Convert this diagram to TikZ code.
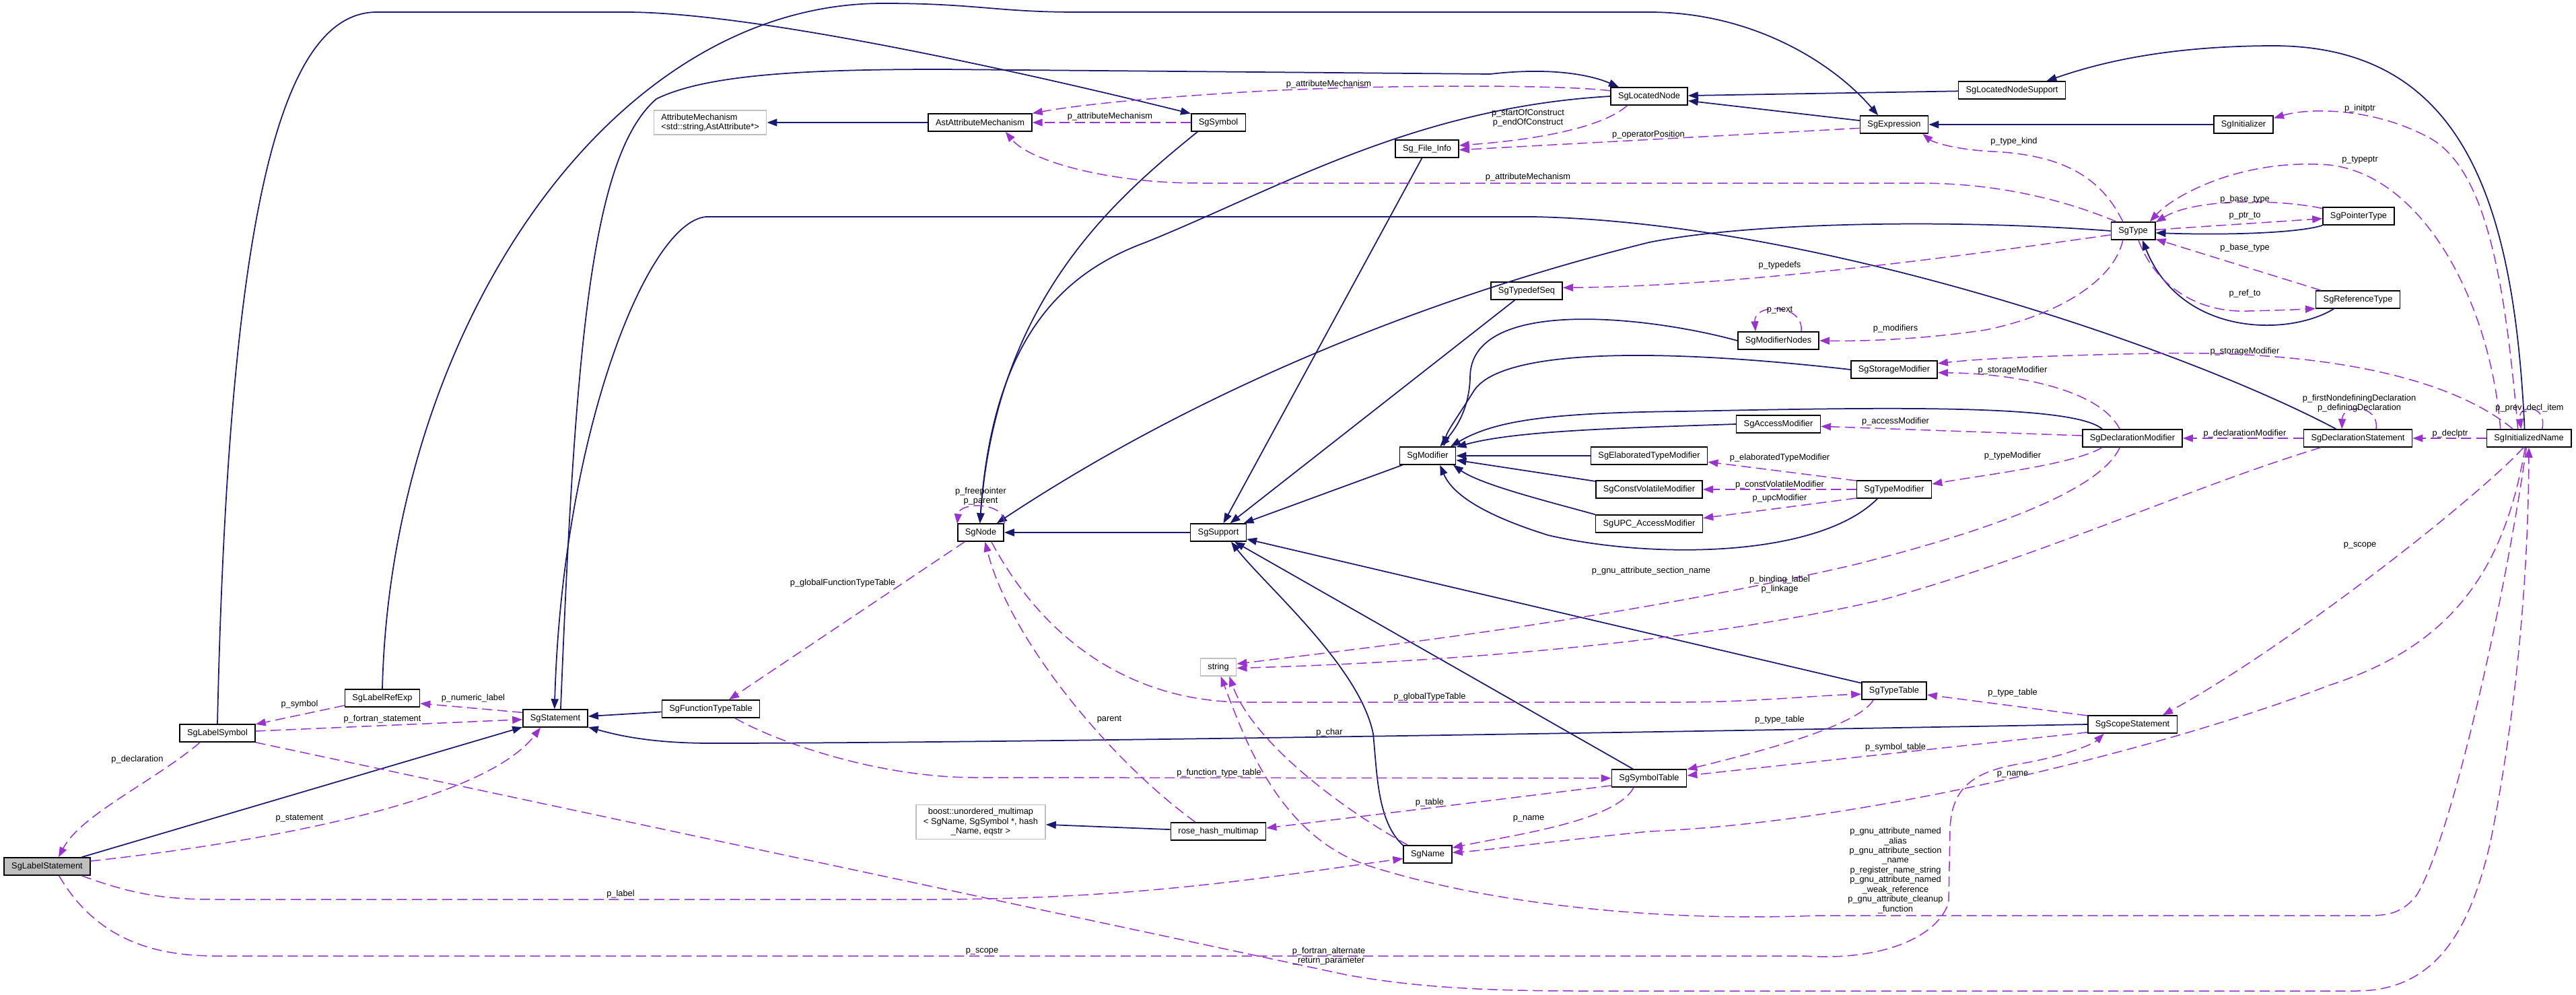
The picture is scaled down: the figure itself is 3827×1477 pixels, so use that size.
\documentclass[tikz,border=0pt]{standalone}
\usepackage{fontspec}
\setmainfont{Liberation Sans}
\usetikzlibrary{arrows.meta}
\definecolor{edgeblue}{HTML}{191970}
\definecolor{edgepurple}{HTML}{9A32CD}

\begin{document}
\begin{tikzpicture}[x=0.2mm, y=-0.2mm,
    font=\fontsize{7.3}{8.2}\selectfont,
    cls/.style={rectangle, draw=black, line width=0.3mm, fill=white,
        minimum height=5.2mm, inner xsep=2.2mm, inner ysep=1mm, align=center},
    extcls/.style={cls, draw=black!25},
    inh/.style={draw=edgeblue, line width=0.35mm, -{Triangle[length=3mm, width=2.2mm]}},
    mem/.style={draw=edgepurple, line width=0.3mm, dash pattern=on 3mm off 1.5mm,
        -{Triangle[length=3mm, width=2.2mm]}},
    lbl/.style={inner sep=0pt, align=center}]

    \useasboundingbox (0,0) rectangle (3827,1477);

    \node[cls, fill=black!25] (lstmt) at (70,1287) {SgLabelStatement};
    \node[cls] (lsym) at (323,1089) {SgLabelSymbol};
    \node[cls] (lref) at (568,1037) {SgLabelRefExp};
    \node[cls] (stmt) at (825,1067) {SgStatement};
    \node[cls] (ftt) at (1056,1053) {SgFunctionTypeTable};
    \node[extcls, align=left] (attrmech) at (1055,182) {AttributeMechanism\\<std::string,AstAttribute*>};
    \node[cls] (astattr) at (1456,182) {AstAttributeMechanism};
    \node[cls] (symbol) at (1810,182) {SgSymbol};
    \node[cls] (locnode) at (2450,143) {SgLocatedNode};
    \node[cls] (fileinfo) at (2120,221) {Sg\_File\_Info};
    \node[cls] (locsupport) at (2989,134) {SgLocatedNodeSupport};
    \node[cls] (expr) at (2814,185) {SgExpression};
    \node[cls] (initer) at (3333,185) {SgInitializer};
    \node[cls] (sgtype) at (3169,343) {SgType};
    \node[cls] (ptrtype) at (3504,321) {SgPointerType};
    \node[cls] (reftype) at (3503,445) {SgReferenceType};
    \node[cls] (typedefseq) at (2268,432) {SgTypedefSeq};
    \node[cls] (modnodes) at (2642,506) {SgModifierNodes};
    \node[cls] (storage) at (2814,549) {SgStorageModifier};
    \node[cls] (access) at (2642,630) {SgAccessModifier};
    \node[cls] (modifier) at (2121,677) {SgModifier};
    \node[cls] (elab) at (2450,677) {SgElaboratedTypeModifier};
    \node[cls] (constvol) at (2450,727) {SgConstVolatileModifier};
    \node[cls] (upc) at (2450,778) {SgUPC\_AccessModifier};
    \node[cls] (typemod) at (2814,727) {SgTypeModifier};
    \node[cls] (declmod) at (3168,651) {SgDeclarationModifier};
    \node[cls] (declstmt) at (3503,651) {SgDeclarationStatement};
    \node[cls] (initname) at (3757,651) {SgInitializedName};
    \node[cls] (sgnode) at (1457,791) {SgNode};
    \node[cls] (support) at (1810,791) {SgSupport};
    \node[extcls] (str) at (1810,991) {string};
    \node[extcls] (boost) at (1457,1221) {boost::unordered\_multimap\\< SgName, SgSymbol *, hash\\\_Name, eqstr >};
    \node[cls] (rosehash) at (1810,1235) {rose\_hash\_multimap};
    \node[cls] (typetable) at (2814,1026) {SgTypeTable};
    \node[cls] (scopestmt) at (3168,1076) {SgScopeStatement};
    \node[cls] (symtable) at (2450,1156) {SgSymbolTable};
    \node[cls] (name) at (2121,1269) {SgName};

    \draw[inh] (lstmt.15) -- (stmt.195);
    \draw[inh] (lsym.north) .. controls (340,300) and (420,18) .. (560,18) -- (930,18)
        .. controls (1100,18) and (1450,90) .. (symbol.162);
    \draw[inh] (lref.north) .. controls (580,500) and (900,5) .. (1312,5)
        .. controls (1450,5) and (1480,18) .. (1600,18) -- (2450,18)
        .. controls (2600,18) and (2720,90) .. (expr.150);
    \draw[inh] (stmt.60) .. controls (855,500) and (880,230) .. (975,147)
        .. controls (1050,110) and (1200,103) .. (1400,103) -- (2214,110)
        .. controls (2300,100) and (2360,110) .. (locnode.163);
    \draw[inh] (declstmt.157) .. controls (3250,520) and (2700,330) .. (2277,322) -- (1049,322)
        .. controls (960,330) and (835,650) .. (stmt.95);
    \draw[inh] (ftt) -- (stmt);
    \draw[inh] (scopestmt.west) .. controls (2600,1085) and (1500,1104) .. (1056,1104)
        .. controls (960,1104) and (910,1090) .. (stmt.-15);
    \draw[inh] (astattr) -- (attrmech);
    \draw[inh] (symbol.-156) .. controls (1650,300) and (1480,450) .. (sgnode.95);
    \draw[inh] (locnode.west) .. controls (2100,160) and (1900,280) .. (1702,360)
        .. controls (1580,405) and (1475,500) .. (sgnode.95);
    \draw[inh] (sgtype.west) .. controls (2900,325) and (2600,330) .. (2450,360)
        .. controls (2330,390) and (1900,500) .. (sgnode.30);
    \draw[inh] (ptrtype.south west) .. controls (3420,345) and (3320,350) .. (sgtype.-5);
    \draw[inh] (reftype.-159) .. controls (3400,500) and (3240,500) .. (sgtype.-45);
    \draw[inh] (expr) -- (locnode);
    \draw[inh] (locsupport) -- (locnode);
    \draw[inh] (initer) -- (expr);
    \draw[inh] (initname.115) .. controls (3735,300) and (3660,70) .. (3380,68)
        .. controls (3200,68) and (3100,100) .. (locsupport.15);
    \draw[inh] (fileinfo) -- (support);
    \draw[inh] (typedefseq) -- (support);
    \draw[inh] (modifier) -- (support);
    \draw[inh] (support) -- (sgnode);
    \draw[inh] (modnodes.west) .. controls (2450,470) and (2185,440) .. (2184,560)
        .. controls (2183,610) and (2160,640) .. (modifier.37);
    \draw[inh] (storage.west) .. controls (2450,515) and (2230,520) .. (2190,580)
        .. controls (2165,620) and (2150,640) .. (modifier.30);
    \draw[inh] (access.west) .. controls (2400,636) and (2250,640) .. (modifier.17);
    \draw[inh] (declmod.163) .. controls (3080,600) and (2800,605) .. (2500,611)
        .. controls (2300,613) and (2220,625) .. (modifier.22);
    \draw[inh] (elab) -- (modifier);
    \draw[inh] (constvol) -- (modifier);
    \draw[inh] (upc.north west) .. controls (2300,745) and (2200,720) .. (modifier.-20);
    \draw[inh] (typemod.-151) .. controls (2700,830) and (2450,830) .. (2300,795)
        .. controls (2220,770) and (2160,740) .. (modifier.-37);
    \draw[inh] (typetable) -- (support);
    \draw[inh] (symtable) -- (support);
    \draw[inh] (name.160) .. controls (2046,1220) and (2046,1150) .. (2040,1090)
        .. controls (2020,990) and (1880,870) .. (support.-36);
    \draw[inh] (rosehash) -- (boost);

    \draw[mem] (lsym.-152) .. controls (230,1160) and (120,1210) .. (lstmt.39);
    \draw[mem] (lref.-169) -- (lsym.13);
    \draw[mem] (stmt.170) -- (lref.-8);
    \draw[mem] (lsym.3) -- (stmt.182);
    \draw[mem] (lstmt.7) .. controls (400,1250) and (720,1190) .. (stmt.-148);
    \draw[mem] (lstmt.-15) .. controls (200,1330) and (250,1336) .. (320,1336) -- (1380,1336)
        .. controls (1700,1336) and (1900,1300) .. (name.190);
    \draw[mem] (lstmt.-38) .. controls (140,1390) and (220,1420) .. (320,1420) -- (2680,1420)
        .. controls (2800,1428) and (2880,1390) .. (2895,1340) -- (2897,1230)
        .. controls (2900,1170) and (2930,1145) .. (3010,1133)
        .. controls (3070,1122) and (3110,1105) .. (scopestmt.-162);
    \draw[mem] (lsym.south east) -- (2000,1448) .. controls (2100,1466) and (2200,1472) .. (2350,1472)
        -- (3500,1472) .. controls (3620,1472) and (3670,1380) .. (3700,1250)
        .. controls (3740,1050) and (3756,850) .. (initname.-90);
    \draw[mem] (symbol) -- (astattr);
    \draw[mem] (locnode.172) .. controls (2320,125) and (2000,125) .. (1800,140)
        .. controls (1650,150) and (1580,160) .. (astattr.10);
    \draw[mem] (sgtype.151) .. controls (3050,290) and (2950,272) .. (2850,272) -- (1780,272)
        .. controls (1650,272) and (1530,240) .. (astattr.-20);
    \draw[mem] (locnode.-157) .. controls (2380,190) and (2280,208) .. (fileinfo.6);
    \draw[mem] (expr.186) -- (fileinfo.-2);
    \draw[mem] (sgtype.138) .. controls (3120,260) and (3060,230) .. (2960,225)
        .. controls (2900,222) and (2870,210) .. (expr.-18);
    \draw[mem] (initname.140) .. controls (3720,400) and (3690,240) .. (3600,200)
        .. controls (3520,160) and (3430,160) .. (initer.12);
    \draw[mem] (initname.162) .. controls (3700,450) and (3600,260) .. (3460,245)
        .. controls (3330,235) and (3230,290) .. (sgtype.29);
    \draw[mem] (ptrtype.168) .. controls (3380,295) and (3260,295) .. (sgtype.21);
    \draw[mem] (sgtype.3) -- (ptrtype.184);
    \draw[mem] (reftype.166) -- (sgtype.-20);
    \draw[mem] (sgtype.-60) .. controls (3200,420) and (3260,465) .. (3340,462)
        .. controls (3380,461) and (3410,460) .. (reftype.-168);
    \draw[mem] (sgtype.-170) .. controls (2950,375) and (2600,425) .. (typedefseq.5);
    \draw[mem] (sgtype.-138) .. controls (3140,420) and (3050,470) .. (2950,490)
        .. controls (2850,505) and (2760,507) .. (modnodes.east);
    \draw[mem] (modnodes.22) .. controls (2680,450) and (2605,450) .. (modnodes.158);
    \draw[mem] (initname.150) .. controls (3640,560) and (3450,520) .. (3200,525)
        .. controls (3050,528) and (2950,532) .. (storage.8);
    \draw[mem] (declmod.144) .. controls (3120,580) and (3000,555) .. (storage.-4);
    \draw[mem] (declmod.177) -- (access.-3);
    \draw[mem] (declstmt) -- (declmod);
    \draw[mem] (initname) -- (declstmt);
    \draw[mem] (declstmt.27) .. controls (3535,600) and (3480,600) .. (declstmt.150);
    \draw[mem] (initname.35) .. controls (3785,600) and (3740,600) .. (initname.130);
    \draw[mem] (declmod.-163) .. controls (3080,690) and (2950,705) .. (typemod.8);
    \draw[mem] (typemod.167) -- (elab.-6);
    \draw[mem] (typemod) -- (constvol);
    \draw[mem] (typemod.-167) -- (upc.6);
    \draw[mem] (declmod.-144) .. controls (3120,730) and (2950,790) .. (2750,840)
        .. controls (2400,920) and (2050,960) .. (str.10);
    \draw[mem] (declstmt.-166) .. controls (3250,725) and (3050,820) .. (2800,890)
        .. controls (2500,960) and (2100,985) .. (str.-3);
    \draw[mem] (name.155) .. controls (1990,1200) and (1860,1100) .. (str.-40);
    \draw[mem] (initname.-105) .. controls (3720,900) and (3640,1250) .. (3590,1330)
        .. controls (3570,1355) and (3550,1360) .. (3520,1360) -- (2700,1360)
        .. controls (2450,1370) and (2200,1340) .. (2030,1285)
        .. controls (1900,1240) and (1850,1100) .. (str.-75);
    \draw[mem] (initname.-120) .. controls (3680,740) and (3400,960) .. (scopestmt.17);
    \draw[mem] (initname.-112) .. controls (3720,850) and (3640,960) .. (3460,1018)
        .. controls (3250,1100) and (2800,1220) .. (2450,1235)
        .. controls (2300,1250) and (2220,1262) .. (name.4);
    \draw[mem] (scopestmt.169) -- (typetable.-7);
    \draw[mem] (scopestmt.-170) -- (symtable.4);
    \draw[mem] (typetable.-156) .. controls (2760,1080) and (2600,1120) .. (symtable.13);
    \draw[mem] (symtable.-149) .. controls (2400,1220) and (2250,1240) .. (name.15);
    \draw[mem] (symtable.-169) -- (rosehash.4);
    \draw[mem] (ftt.-21) .. controls (1150,1100) and (1300,1155) .. (1450,1155) -- (symtable.west);
    \draw[mem] (sgnode.-150) -- (ftt.27);
    \draw[mem] (sgnode.-41) .. controls (1550,950) and (1680,1043) .. (1850,1043) -- (2500,1043)
        .. controls (2600,1043) and (2700,1033) .. (typetable.-174);
    \draw[mem] (sgnode.20) .. controls (1495,745) and (1425,745) .. (sgnode.160);
    \draw[mem] (rosehash.158) .. controls (1650,1130) and (1500,950) .. (sgnode.-65);

    \node[lbl] (lbdecl) at (204,1128) {p\_declaration};
    \node[lbl] (lbsym) at (445,1046) {p\_symbol};
    \node[lbl] (lbnum) at (703,1037) {p\_numeric\_label};
    \node[lbl] (lbfort) at (568,1068) {p\_fortran\_statement};
    \node[lbl] (lbstmt) at (445,1216) {p\_statement};
    \node[lbl] (lblabel) at (922,1328) {p\_label};
    \node[lbl] (lbscopea) at (1459,1413) {p\_scope};
    \node[lbl] (lbfortalt) at (1974,1420) {p\_fortran\_alternate\\\_return\_parameter};
    \node[lbl] (lbattrsym) at (1649,173) {p\_attributeMechanism};
    \node[lbl] (lbattrloc) at (1974,125) {p\_attributeMechanism};
    \node[lbl] (lbattrtype) at (2270,263) {p\_attributeMechanism};
    \node[lbl] (lbconstruct) at (2270,175) {p\_startOfConstruct\\p\_endOfConstruct};
    \node[lbl] (lboperator) at (2449,200) {p\_operatorPosition};
    \node[lbl] (lbkind) at (2992,210) {p\_type\_kind};
    \node[lbl] (lbinitptr) at (3506,161) {p\_initptr};
    \node[lbl] (lbtypeptr) at (3506,238) {p\_typeptr};
    \node[lbl] (lbbasep) at (3335,296) {p\_base\_type};
    \node[lbl] (lbptrto) at (3335,321) {p\_ptr\_to};
    \node[lbl] (lbbaser) at (3335,368) {p\_base\_type};
    \node[lbl] (lbrefto) at (3335,436) {p\_ref\_to};
    \node[lbl] (lbtypedefs) at (2644,394) {p\_typedefs};
    \node[lbl] (lbnext) at (2644,461) {p\_next};
    \node[lbl] (lbmods) at (2816,488) {p\_modifiers};
    \node[lbl] (lbstora) at (3335,522) {p\_storageModifier};
    \node[lbl] (lbstorb) at (2990,550) {p\_storageModifier};
    \node[lbl] (lbdefining) at (3505,599) {p\_firstNondefiningDeclaration\\p\_definingDeclaration};
    \node[lbl] (lbprev) at (3758,606) {p\_prev\_decl\_item};
    \node[lbl] (lbaccess) at (2816,626) {p\_accessModifier};
    \node[lbl] (lbdeclmod) at (3335,644) {p\_declarationModifier};
    \node[lbl] (lbdeclptr) at (3640,644) {p\_declptr};
    \node[lbl] (lbelab) at (2644,680) {p\_elaboratedTypeModifier};
    \node[lbl] (lbtypemod) at (2990,677) {p\_typeModifier};
    \node[lbl] (lbconstvol) at (2644,720) {p\_constVolatileModifier};
    \node[lbl] (lbupc) at (2644,740) {p\_upcModifier};
    \node[lbl] (lbscopeb) at (3506,810) {p\_scope};
    \node[lbl] (lbsection) at (2453,848) {p\_gnu\_attribute\_section\_name};
    \node[lbl] (lbbinding) at (2644,868) {p\_binding\_label\\p\_linkage};
    \node[lbl] (lbfree) at (1457,737) {p\_freepointer\\p\_parent};
    \node[lbl] (lbgfunc) at (1252,866) {p\_globalFunctionTypeTable};
    \node[lbl] (lbgtype) at (2124,1035) {p\_globalTypeTable};
    \node[lbl] (lbparent) at (1648,1069) {parent};
    \node[lbl] (lbchar) at (1975,1088) {p\_char};
    \node[lbl] (lbfunctt) at (1811,1148) {p\_function\_type\_table};
    \node[lbl] (lbtable) at (2124,1192) {p\_table};
    \node[lbl] (lbnamea) at (2271,1216) {p\_name};
    \node[lbl] (lbnameb) at (2990,1150) {p\_name};
    \node[lbl] (lbtta) at (2644,1069) {p\_type\_table};
    \node[lbl] (lbttb) at (2990,1029) {p\_type\_table};
    \node[lbl] (lbsymtab) at (2816,1110) {p\_symbol\_table};
    \node[lbl] (lbgnu) at (2816,1293) {p\_gnu\_attribute\_named\\\_alias\\p\_gnu\_attribute\_section\\\_name\\p\_register\_name\_string\\p\_gnu\_attribute\_named\\\_weak\_reference\\p\_gnu\_attribute\_cleanup\\\_function};
\end{tikzpicture}
\end{document}
